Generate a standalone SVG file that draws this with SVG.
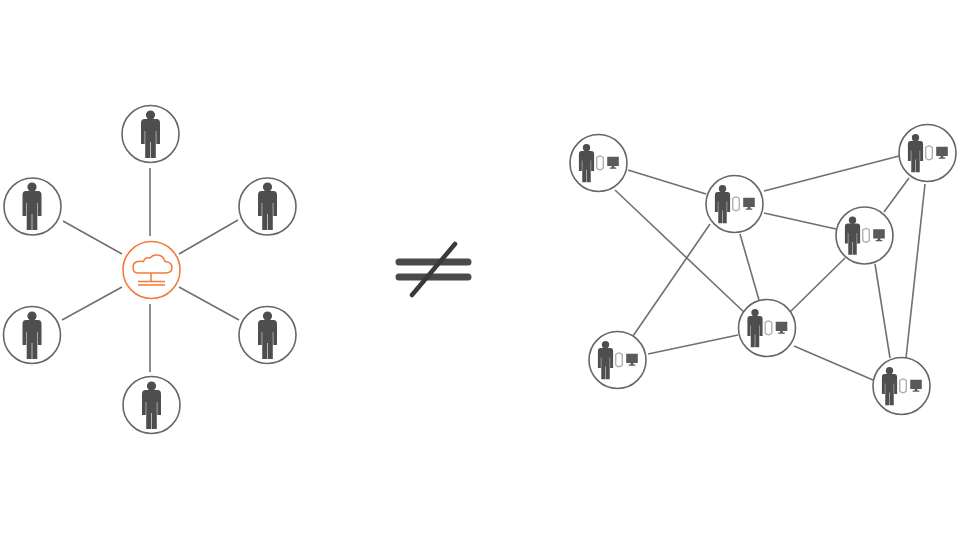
<svg xmlns="http://www.w3.org/2000/svg" width="960" height="540" viewBox="0 0 960 540">
<style>
.ring{fill:#fff;stroke:#666;stroke-width:1.6}
.conn line{stroke:#707070;stroke-width:1.6;fill:none}
.fig{fill:#4e4e4e}
.org{fill:none;stroke:#f47a3c;stroke-width:1.5}
.cyl{fill:#fff;stroke:#b0b0b0;stroke-width:1.4}
.mon{fill:#5a5a5a}
</style>
<defs>
<g id="person">
<circle class="fig" cx="0" cy="-19" r="4.600"/>
<path class="fig" d="M-6-15H6Q9.500-15 9.500-11V10H5.800V-3H5.300V24H.3V8H-.3V24H-5.300V-3H-5.800V10H-9.500V-11Q-9.500-15-6-15Z"/>
</g>
<g id="peer">
<circle class="ring" cx="0" cy="0" r="28.500"/>
<use href="#person" transform="translate(-12,0) scale(.8)"/>
<path class="cyl" d="M-1.800-5.500Q1.500-8.500 4.800-5.500V5Q1.500 8.500-1.800 5Z"/>
<path class="mon" d="M8.700-6.300H20.300V3H15.800V4.500H17.800V5.800H11.200V4.500H13.200V3H8.700Z"/>
</g>
</defs>
<rect width="960" height="540" fill="#fff"/>
<g class="conn" id="connectors">
<line x1="150" y1="168" x2="150" y2="236"/>
<line x1="63" y1="221" x2="122" y2="254"/>
<line x1="238" y1="220" x2="179" y2="254"/>
<line x1="62" y1="320" x2="122" y2="287"/>
<line x1="239" y1="320" x2="179" y2="287"/>
<line x1="150" y1="304" x2="150" y2="372"/>
<line x1="628" y1="170" x2="706" y2="194"/>
<line x1="615" y1="190" x2="746" y2="314"/>
<line x1="764" y1="191" x2="899" y2="156"/>
<line x1="764" y1="213" x2="836" y2="229"/>
<line x1="740" y1="234" x2="759" y2="300"/>
<line x1="710" y1="224" x2="633" y2="336"/>
<line x1="648" y1="354" x2="738" y2="335"/>
<line x1="790" y1="312" x2="845" y2="258"/>
<line x1="794" y1="346" x2="873" y2="380"/>
<line x1="875" y1="264" x2="890" y2="358"/>
<line x1="925" y1="184" x2="906" y2="358"/>
<line x1="909" y1="178" x2="884" y2="212"/>
</g>
<g id="user-top"><circle class="ring" cx="150.500" cy="134" r="28.500"/><use href="#person" x="150.500" y="134"/></g>
<g id="user-tl"><circle class="ring" cx="32.500" cy="206.500" r="28.500"/><use href="#person" x="32" y="206"/></g>
<g id="user-tr"><circle class="ring" cx="267.500" cy="206.500" r="28.500"/><use href="#person" x="267.500" y="206"/></g>
<g id="user-bl"><circle class="ring" cx="32" cy="335" r="28.500"/><use href="#person" x="32" y="335"/></g>
<g id="user-br"><circle class="ring" cx="267.500" cy="335" r="28.500"/><use href="#person" x="267.500" y="335"/></g>
<g id="user-bottom"><circle class="ring" cx="151.500" cy="405" r="28.500"/><use href="#person" x="151.500" y="405"/></g>
<g id="cloud-hub">
<circle cx="151.500" cy="270" r="28.500" fill="#fff" stroke="#f47a3c" stroke-width="1.6"/>
<path class="org" d="M138 273H165Q172 273 172 267.500Q172 262 165 261.500Q163 254 155.500 255Q152 255.500 150 258Q145 256.500 143.500 261.500Q133 260 133 267.500Q133 273 138 273Z"/>
<path class="org" d="M151 273V281M138 281.500H165M138 285H165"/>
</g>
<g id="neq">
<path d="M399 262H468M399 277H468" stroke="#4a4a4a" stroke-width="7" stroke-linecap="round" fill="none"/>
<path d="M412 295L455 244" stroke="#3a3a3a" stroke-width="4.500" stroke-linecap="round" fill="none"/>
</g>
<g id="peer-1"><use href="#peer" x="598.500" y="163"/></g>
<g id="peer-2"><use href="#peer" x="734.500" y="204"/></g>
<g id="peer-3"><use href="#peer" x="927.500" y="153"/></g>
<g id="peer-4"><use href="#peer" x="864.500" y="235.500"/></g>
<g id="peer-5"><use href="#peer" x="767" y="328"/></g>
<g id="peer-6"><use href="#peer" x="617.500" y="360"/></g>
<g id="peer-7"><use href="#peer" x="901.500" y="386"/></g>
</svg>
